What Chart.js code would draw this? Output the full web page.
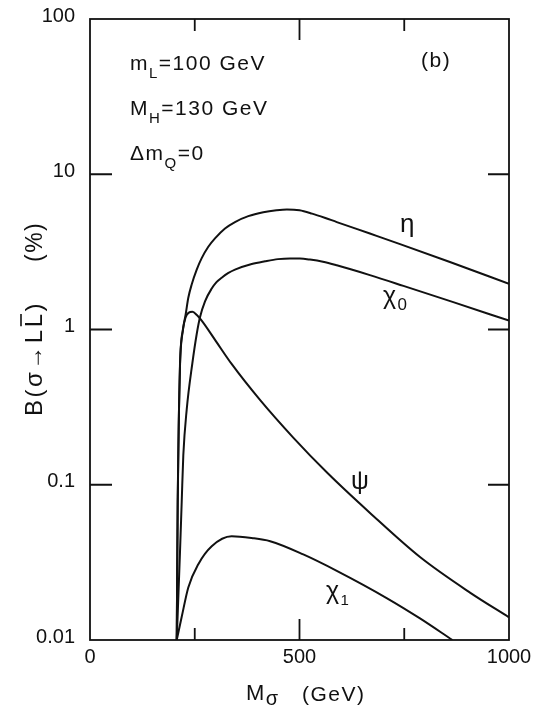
<!DOCTYPE html>
<html>
<head>
<meta charset="utf-8">
<script src="https://cdn.jsdelivr.net/npm/chart.js@4.4.1/dist/chart.umd.min.js"></script>
<style>
  html, body { margin: 0; padding: 0; background: #fff; }
  #wrap { width: 538px; height: 710px; }
</style>
</head>
<body>
<div id="wrap"><canvas id="c" width="538" height="710"></canvas></div>
<script>
// M_sigma (GeV) and branching ratio B (%)
const etaM  = [207, 209.3, 212.4, 214.8, 220.3, 228.4, 234.6, 242.7, 254.7, 266.6, 282.3, 298.3, 322.2, 346, 377.8, 413.6, 445, 470, 500, 530, 560, 589, 668, 740, 859, 1000];
const etaB  = [0.01, 0.078, 0.305, 0.603, 0.936, 1.255, 1.60, 1.95, 2.43, 2.88, 3.41, 3.86, 4.47, 4.92, 5.37, 5.69, 5.86, 5.93, 5.86, 5.58, 5.25, 4.92, 4.15, 3.55, 2.72, 1.97];

const chi0M = [207, 214.8, 218.9, 222.7, 230.8, 244.2, 254.7, 262.5, 274.5, 290.5, 301.9, 314.3, 329.4, 346, 386, 417.7, 448.7, 477.3, 501, 525, 556, 589, 668, 748, 867, 1000];
const chi0B = [0.01, 0.037, 0.078, 0.155, 0.305, 0.604, 0.936, 1.20, 1.52, 1.836, 2.02, 2.157, 2.304, 2.43, 2.64, 2.75, 2.84, 2.87, 2.866, 2.82, 2.73, 2.59, 2.24, 1.91, 1.50, 1.14];

const psiM  = [207, 209.3, 214.8, 222, 228.4, 235, 244.6, 255, 266.6, 300, 338, 405.7, 484.5, 565.6, 668.3, 787.6, 906.9, 1000];
const psiB  = [0.01, 0.075, 0.58, 1.0, 1.2, 1.28, 1.30, 1.24, 1.14, 0.845, 0.60, 0.352, 0.202, 0.1198, 0.0658, 0.0342, 0.0202, 0.0140];

const chi1M = [207, 218.9, 234.6, 258.5, 290.5, 338, 386, 430, 509, 589, 708, 787.6, 865];
const chi1B = [0.01, 0.0141, 0.0218, 0.0308, 0.0402, 0.0466, 0.0454, 0.0433, 0.0356, 0.0279, 0.01864, 0.01378, 0.01];

const xTicks = [0, 500, 1000];
const xMinor = [250, 750];
const yTicks = [0.01, 0.1, 1, 10, 100];
const yLabels = ['0.01', '0.1', '1', '10', '100'];

const INK = '#111';
const FONT = '"Liberation Sans", Arial, sans-serif';

function pts(xs, ys) { return xs.map((x, i) => ({ x: x, y: ys[i] })); }

function line(xs, ys) {
  return {
    data: pts(xs, ys),
    borderColor: INK,
    borderWidth: 2,
    pointRadius: 0,
    fill: false,
    cubicInterpolationMode: 'monotone'
  };
}

// draws a run of text pieces [text, size, dy]
function rich(ctx, parts, x, y, spacing) {
  ctx.save();
  ctx.letterSpacing = (spacing == null ? 1.5 : spacing) + 'px';
  let cx = x;
  parts.forEach(p => {
    ctx.font = p[1] + 'px ' + FONT;
    ctx.fillText(p[0], cx, y + (p[2] || 0));
    cx += ctx.measureText(p[0]).width;
  });
  ctx.restore();
  return cx;
}

const decor = {
  id: 'decor',
  afterDraw(chart) {
    const ctx = chart.ctx;
    const a = chart.chartArea;
    const xs = chart.scales.x, ys = chart.scales.y;
    ctx.save();
    ctx.strokeStyle = INK;
    ctx.fillStyle = INK;
    ctx.lineWidth = 1.8;
    ctx.strokeRect(a.left, a.top, a.right - a.left, a.bottom - a.top);

    ctx.beginPath();
    [0.1, 1, 10].forEach(v => {
      const py = ys.getPixelForValue(v);
      ctx.moveTo(a.left, py); ctx.lineTo(a.left + 22, py);
      ctx.moveTo(a.right, py); ctx.lineTo(a.right - 21, py);
    });
    [250, 500, 750].forEach(v => {
      const px = xs.getPixelForValue(v);
      const len = xMinor.includes(v) ? 12 : 21;
      ctx.moveTo(px, a.bottom); ctx.lineTo(px, a.bottom - len);
      ctx.moveTo(px, a.top); ctx.lineTo(px, a.top + len);
    });
    ctx.stroke();

    ctx.textBaseline = 'alphabetic';
    // parameters
    rich(ctx, [['m', 21], ['L', 15, 8], ['=100 GeV', 21]], 130, 70);
    rich(ctx, [['M', 21], ['H', 15, 8], ['=130 GeV', 21]], 130, 115);
    rich(ctx, [['\u0394m', 21], ['Q', 15, 8], ['=0', 21]], 130, 160);
    rich(ctx, [['(b)', 21]], 421, 67);

    // curve labels
    rich(ctx, [['\u03b7', 26]], 400, 232);
    rich(ctx, [['\u03c7', 25], ['0', 17, 6]], 383, 304);
    rich(ctx, [['\u03c8', 25]], 351, 489);
    rich(ctx, [['\u03c7', 25], ['1', 15, 6]], 326, 599);

    // x title
    rich(ctx, [['M', 22], ['\u03c3', 20, 5]], 246, 700);
    rich(ctx, [['(GeV)', 21]], 302, 701);

    // y title
    ctx.translate(42, 416);
    ctx.rotate(-Math.PI / 2);
    let end = rich(ctx, [['B(\u03c3\u2192L', 24]], 0, 0, 2.5);
    ctx.font = '24px ' + FONT;
    const lw = ctx.measureText('L').width;
    const end2 = rich(ctx, [['L', 24]], end, 0, 2.5);
    ctx.lineWidth = 1.6;
    ctx.beginPath();
    ctx.moveTo(end + 1, -21); ctx.lineTo(end + lw, -21);
    ctx.stroke();
    rich(ctx, [[')', 24]], end2, 0, 2.5);
    rich(ctx, [['(%)', 23]], 154, 0);
    ctx.restore();
  }
};

new Chart(document.getElementById('c'), {
  type: 'line',
  data: {
    datasets: [
      line(etaM, etaB),
      line(chi0M, chi0B),
      line(psiM, psiB),
      line(chi1M, chi1B)
    ]
  },
  options: {
    responsive: false,
    animation: false,
    events: [],
    layout: { padding: { left: 0, top: 11, right: 29, bottom: 0 } },
    plugins: { legend: { display: false }, tooltip: { enabled: false } },
    scales: {
      x: {
        type: 'linear',
        min: 0, max: 1000,
        grid: { display: false },
        border: { display: false },
        afterBuildTicks: s => { s.ticks = xTicks.map(v => ({ value: v })); },
        afterFit: s => { s.height = 70; },
        ticks: {
          color: INK,
          padding: -3,
          maxRotation: 0,
          font: { family: FONT, size: 20 },
          callback: v => String(v)
        }
      },
      y: {
        type: 'logarithmic',
        min: 0.01, max: 100,
        grid: { display: false },
        border: { display: false },
        afterBuildTicks: s => { s.ticks = yTicks.map(v => ({ value: v })); },
        afterFit: s => { s.width = 90; },
        ticks: {
          color: INK,
          padding: 7,
          labelOffset: -3,
          font: { family: FONT, size: 20 },
          callback: v => yLabels[yTicks.indexOf(v)]
        }
      }
    }
  },
  plugins: [decor]
});
</script>
</body>
</html>
